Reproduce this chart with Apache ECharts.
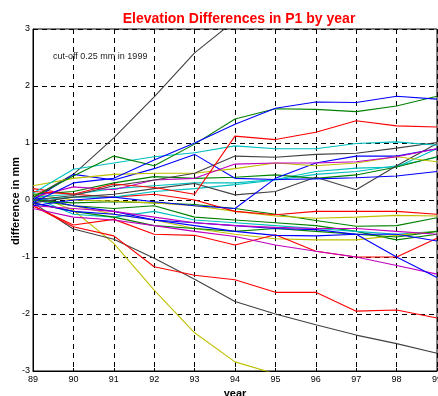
<!DOCTYPE html>
<html><head><meta charset="utf-8">
<script src="https://cdn.jsdelivr.net/npm/echarts@6/dist/echarts.min.js"></script>
<style>html,body{margin:0;padding:0;background:#fff}#c{width:438px;height:396px}</style>
</head><body><div id="c"></div>
<script>
const years = [89, 90, 91, 92, 93, 94, 95, 96, 97, 98, 99];
const xTicks = ['89','90','91','92','93','94','95','96','97','98','99'];
const yTicks = ['-3','-2','-1','0','1','2','3'];
const titleText = 'Elevation Differences in P1 by year';
const noteText = 'cut-off 0.25 mm in 1999';
const xName = 'year';
const yName = 'difference in mm';

// series values (mm), one array per profile point
const grayUp     = [0.05, 0.45, 1.09, 1.81, 2.58, 3.15, 3.5, 3.8, 4.1, 4.4, 4.6];
const yellowDown = [0.1, -0.18, -0.76, -1.58, -2.33, -2.84, -3.05, -3.2, -3.35, -3.5, -3.6];
const grayDown   = [-0.05, -0.51, -0.69, -1.02, -1.39, -1.78, -2.0, -2.19, -2.37, -2.52, -2.69];
const redDown    = [-0.1, -0.47, -0.63, -1.17, -1.32, -1.4, -1.62, -1.62, -1.95, -1.93, -2.07];
const blueTop    = [-0.05, 0.3, 0.38, 0.7, 1.0, 1.33, 1.61, 1.72, 1.71, 1.82, 1.77];
const greenTop   = [0.05, 0.42, 0.77, 0.6, 0.98, 1.42, 1.6, 1.59, 1.55, 1.65, 1.82];
const redTop     = [0.15, 0.1, 0.28, 0.22, 0.1, 1.12, 1.06, 1.19, 1.39, 1.3, 1.28];
const cyanTop    = [0.12, 0.54, 0.65, 0.76, 0.83, 0.95, 0.9, 0.9, 0.99, 1.02, 0.96];
const grayMid    = [0.0, 0.08, 0.25, 0.35, 0.47, 0.77, 0.75, 0.8, 0.82, 0.91, 1.01];
const magentaUp  = [0.05, 0.23, 0.18, 0.35, 0.38, 0.63, 0.65, 0.65, 0.67, 0.76, 0.9];
const yellowUp   = [0.25, 0.38, 0.45, 0.47, 0.47, 0.55, 0.65, 0.6, 0.65, 0.76, 0.67];
const blueA      = [0.0, 0.45, 0.35, 0.55, 0.8, 0.38, 0.36, 0.37, 0.39, 0.42, 0.5];
const blueB      = [-0.1, 0.0, 0.05, -0.03, -0.1, -0.15, 0.38, 0.65, 0.77, 0.77, 0.9];
const grayC      = [-0.05, 0.05, 0.1, 0.2, 0.29, 0.09, 0.15, 0.4, 0.18, 0.6, 0.99];
const greenMid   = [0.1, 0.15, 0.3, 0.41, 0.38, 0.4, 0.44, 0.38, 0.44, 0.58, 0.76];
const cyanMid    = [0.05, 0.1, 0.2, 0.25, 0.3, 0.3, 0.36, 0.5, 0.56, 0.58, 0.9];
const cyanMid2   = [0.0, 0.05, 0.05, 0.15, 0.2, 0.27, 0.35, 0.45, 0.5, 0.6, 0.75];
const redE       = [0.2, 0.1, 0.05, 0.1, 0.0, -0.2, -0.26, -0.2, -0.2, -0.2, -0.25];
const yellowF    = [0.1, 0.0, -0.02, -0.05, -0.1, -0.2, -0.28, -0.32, -0.3, -0.27, -0.28];
const greenG     = [0.0, -0.05, -0.03, -0.05, -0.08, -0.15, -0.25, -0.36, -0.46, -0.45, -0.31];
const magentaH   = [-0.1, -0.15, -0.2, -0.3, -0.4, -0.45, -0.48, -0.5, -0.5, -0.55, -0.6];
const blueI      = [-0.05, -0.2, -0.25, -0.35, -0.4, -0.45, -0.5, -0.52, -0.6, -0.6, -0.72];
const blueJ      = [0.05, -0.1, -0.2, -0.35, -0.45, -0.55, -0.62, -0.63, -0.6, -1.0, -1.36];
const magentaK   = [-0.15, -0.3, -0.35, -0.45, -0.55, -0.64, -0.79, -0.9, -1.0, -1.15, -1.3];
const redL       = [-0.1, -0.44, -0.34, -0.6, -0.62, -0.79, -0.61, -0.9, -1.0, -1.0, -0.67];
const greenM     = [-0.05, -0.2, -0.3, -0.45, -0.5, -0.55, -0.5, -0.55, -0.6, -0.65, -0.55];
const yellowN    = [0.05, -0.1, -0.25, -0.35, -0.5, -0.6, -0.68, -0.7, -0.7, -0.62, -0.55];
const cyanO      = [0.05, -0.25, -0.3, -0.2, -0.35, -0.4, -0.45, -0.5, -0.55, -0.6, -0.55];
const greenP     = [0.0, -0.1, -0.15, -0.1, -0.3, -0.35, -0.4, -0.45, -0.55, -0.7, -0.6];

const C = {blue:'#0000ff', green:'#008000', red:'#ff0000', cyan:'#00bfbf', magenta:'#bf00bf', yellow:'#bfbf00', gray:'#404040'};
const lines = [
  [grayUp, C.gray], [yellowDown, C.yellow], [grayDown, C.gray], [redDown, C.red],
  [greenP, C.green], [cyanO, C.cyan], [yellowN, C.yellow], [greenM, C.green],
  [redL, C.red], [magentaK, C.magenta], [blueJ, C.blue], [blueI, C.blue],
  [magentaH, C.magenta], [greenG, C.green], [yellowF, C.yellow], [redE, C.red],
  [cyanMid2, C.cyan], [cyanMid, C.cyan], [greenMid, C.green], [grayC, C.gray],
  [blueB, C.blue], [blueA, C.blue], [yellowUp, C.yellow], [magentaUp, C.magenta],
  [grayMid, C.gray], [cyanTop, C.cyan], [redTop, C.red], [greenTop, C.green], [blueTop, C.blue]
];

const chart = echarts.init(document.getElementById('c'), null, {renderer:'canvas'});
const dash = {color:'#000', type:[5,4], width:1};
const font = 'Liberation Sans, Arial, sans-serif';
chart.setOption({
  animation:false,
  title:{text:titleText, left:234, textAlign:'center', top:7,
    textStyle:{color:'#ff0000', fontSize:14, fontWeight:'bold', fontFamily:font}},
  graphic:[
    {type:'text', left:53, top:52, style:{text:noteText, fill:'#222', fontSize:9, fontFamily:font}},
    {type:'text', x:16, y:201, rotation:Math.PI/2,
      style:{text:yName, fill:'#000', fontSize:11, fontWeight:'bold', fontFamily:font, align:'center', verticalAlign:'middle'}}
  ],
  grid:{left:33, right:1, top:29, bottom:25, containLabel:false, outerBoundsMode:'none',
    show:true, borderColor:'#000', borderWidth:1, backgroundColor:'transparent'},
  xAxis:{type:'value', min:89, max:99, interval:1,
    name:xName, nameLocation:'middle', nameGap:14,
    nameTextStyle:{fontWeight:'bold', fontSize:11, color:'#000', fontFamily:font},
    axisLine:{show:true, onZero:false, lineStyle:{color:'#000'}},
    axisTick:{show:true, inside:true, length:3, lineStyle:{color:'#000'}},
    axisLabel:{color:'#000', fontSize:9, margin:4, fontFamily:font,
      formatter:function(v){return xTicks[Math.round(v-89)] || '';}},
    splitLine:{show:true, lineStyle:dash}},
  yAxis:{type:'value', min:-3, max:3, interval:1,
    axisLine:{show:true, onZero:false, lineStyle:{color:'#000'}},
    axisTick:{show:true, inside:true, length:3, lineStyle:{color:'#000'}},
    axisLabel:{color:'#000', fontSize:9, margin:3, fontFamily:font,
      formatter:function(v){return yTicks[Math.round(v+3)] || '';}},
    splitLine:{show:true, lineStyle:dash}},
  series: lines.map(function(l){
    return {type:'line', data: years.map(function(y,i){return [y, l[0][i]];}),
      showSymbol:false, symbol:'none', clip:true, lineStyle:{color:l[1], width:1.1}, itemStyle:{color:l[1]}};
  })
});
</script></body></html>
